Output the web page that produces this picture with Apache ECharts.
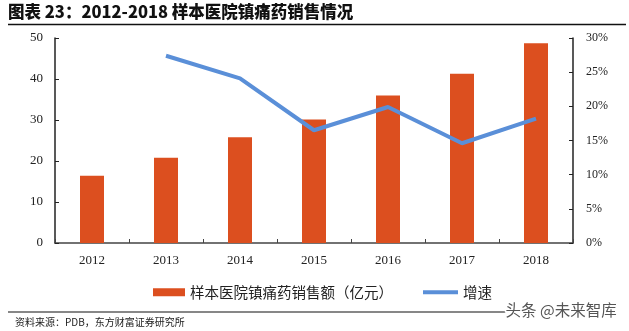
<!DOCTYPE html>
<html>
<head>
<meta charset="utf-8">
<script src="https://cdn.jsdelivr.net/npm/echarts@6/dist/echarts.min.js"></script>
<style>
  html, body { margin: 0; padding: 0; background: #fff; }
  #chart { width: 629px; height: 331px; }
</style>
</head>
<body>
<div id="chart"></div>
<script>
// Sample-hospital analgesic sales, 2012–2018
const years = ['2012', '2013', '2014', '2015', '2016', '2017', '2018'];
const sales = [16.4, 20.8, 25.8, 30.1, 36.0, 41.3, 48.7];       // 亿元
const growth = [null, 27.4, 24.1, 16.5, 19.9, 14.6, 18.2];       // %
const salesTicks = [0, 10, 20, 30, 40, 50];
const growthTicks = [0, 5, 10, 15, 20, 25, 30];

const BAR = '#DC4F1F';
const LINE = '#5A8FD8';
const AXIS = '#222';
const serif = '"Liberation Serif", "DejaVu Serif", serif';
const cjk = '"Noto Sans CJK SC", sans-serif';

const chart = echarts.init(document.getElementById('chart'), null, { renderer: 'canvas' });

chart.setOption({
  animation: false,
  backgroundColor: '#fff',
  grid: { left: 55, right: 56, top: 38, bottom: 88 },
  legend: [
    {
      data: [{ name: '样本医院镇痛药销售额（亿元）', icon: 'rect' }],
      left: 153, top: 285, padding: 0,
      itemWidth: 32, itemHeight: 8, itemGap: 6,
      textStyle: { fontFamily: cjk, fontSize: 14.5, color: '#222' }
    },
    {
      data: [{ name: '增速', icon: 'rect' }],
      left: 423, top: 285, padding: 0,
      itemWidth: 35, itemHeight: 4,
      textStyle: { fontFamily: cjk, fontSize: 14.5, color: '#222' }
    }
  ],
  xAxis: {
    type: 'category',
    data: years,
    axisLine: { lineStyle: { color: '#444', width: 1.5 } },
    axisTick: { show: true, inside: true, length: 4, alignWithLabel: false, lineStyle: { color: '#444' } },
    axisLabel: { margin: 11, fontFamily: serif, fontSize: 13, color: '#222' }
  },
  yAxis: [
    {
      type: 'value', min: 0, max: 50, interval: 10,
      axisLine: { show: true, lineStyle: { color: AXIS, width: 1.5 } },
      axisTick: { show: true, inside: true, length: 4, lineStyle: { color: AXIS } },
      splitLine: { show: false },
      axisLabel: {
        margin: 12, fontFamily: serif, fontSize: 13, color: '#222',
        formatter: v => salesTicks.includes(v) ? String(v) : ''
      }
    },
    {
      type: 'value', min: 0, max: 30, interval: 5,
      axisLine: { show: true, lineStyle: { color: AXIS, width: 1.5 } },
      axisTick: { show: true, inside: true, length: 4, lineStyle: { color: AXIS } },
      splitLine: { show: false },
      axisLabel: {
        margin: 13, fontFamily: serif, fontSize: 12, color: '#222',
        formatter: v => growthTicks.includes(v) ? v + '%' : ''
      }
    }
  ],
  series: [
    {
      name: '样本医院镇痛药销售额（亿元）',
      type: 'bar',
      data: sales,
      barWidth: 24,
      itemStyle: { color: BAR }
    },
    {
      name: '增速',
      type: 'line',
      yAxisIndex: 1,
      data: growth,
      symbol: 'none',
      lineStyle: { color: LINE, width: 4 },
      itemStyle: { color: LINE }
    }
  ],
  graphic: [
    {
      type: 'text', left: 8, top: 3,
      style: {
        text: '图表 23：2012-2018 样本医院镇痛药销售情况',
        font: '900 16.5px ' + cjk, fill: '#111'
      }
    },
    {
      type: 'line', shape: { x1: 8, y1: 24.5, x2: 626, y2: 24.5 },
      style: { stroke: '#111', lineWidth: 1.5 }
    },
    {
      type: 'line', shape: { x1: 8, y1: 312, x2: 604, y2: 312 },
      style: { stroke: '#111', lineWidth: 1.2 }
    },
    {
      type: 'text', left: 15, top: 317,
      style: {
        text: '资料来源：PDB，东方财富证券研究所',
        font: '10px ' + cjk, fill: '#222'
      }
    },
    {
      type: 'text', left: 504, top: 301, z: 10,
      style: {
        text: '头条 @未来智库',
        font: '15.5px ' + cjk, fill: '#555',
        stroke: '#fff', lineWidth: 3, backgroundColor: '#fff'
      }
    }
  ]
});
</script>
</body>
</html>
